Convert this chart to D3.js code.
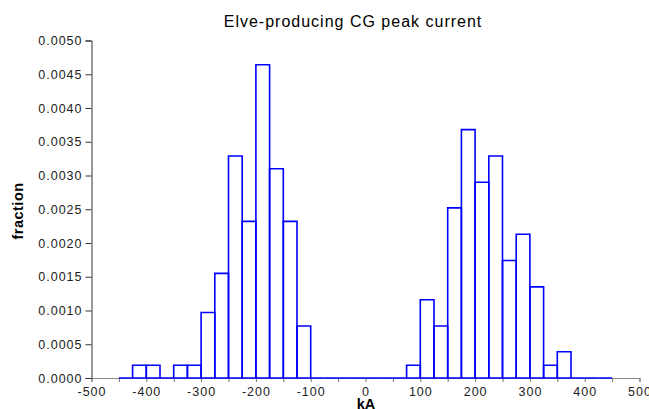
<!DOCTYPE html>
<html>
<head>
<meta charset="utf-8">
<script src="https://cdn.jsdelivr.net/npm/d3@7"></script>
<style>
  body { margin: 0; background: #fff; }
  svg { display: block; font-family: "Liberation Sans", Arial, sans-serif; }
</style>
</head>
<body>
<div id="chart"></div>
<script>
// Histogram bins (kA), 25 kA wide
const binStarts = [
  -450, -425, -400, -375, -350, -325, -300, -275, -250, -225, -200, -175, -150, -125,
  -100, -75, -50, -25, 0, 25, 50,
  75, 100, 125, 150, 175, 200, 225, 250, 275, 300, 325, 350, 375, 400, 425
];
const fractions = [
  0, 0.00019, 0.00019, 0, 0.00019, 0.00019, 0.00097, 0.00155, 0.00329, 0.00232, 0.00464, 0.00310, 0.00232, 0.00077,
  0, 0, 0, 0, 0, 0, 0,
  0.00019, 0.00116, 0.00077, 0.00252, 0.00368, 0.00290, 0.00329, 0.00174, 0.00213, 0.00135, 0.00019, 0.00039, 0, 0, 0
];
const binWidth = 25;
const xTicks = [-500, -400, -300, -200, -100, 0, 100, 200, 300, 400, 500];
const yTicks = [0, 0.0005, 0.001, 0.0015, 0.002, 0.0025, 0.003, 0.0035, 0.004, 0.0045, 0.005];

const width = 649, height = 409;
const margin = { top: 40.5, right: 10, bottom: 31, left: 91.5 };

const svg = d3.select('#chart').append('svg')
  .attr('width', width)
  .attr('height', height);

const x = d3.scaleLinear().domain([-500, 500]).range([margin.left, 639.5]);
const y = d3.scaleLinear().domain([0, 0.005]).range([height - margin.bottom, margin.top]);

// Axes
const xAxis = svg.append('g')
  .attr('transform', 'translate(0,' + y(0) + ')')
  .call(d3.axisBottom(x).tickValues(d3.range(-500, 501, 50)).tickSize(4)
    .tickFormat(d => xTicks.includes(d) ? d : ''));

const yAxis = svg.append('g')
  .attr('transform', 'translate(' + x(-500) + ',0)')
  .call(d3.axisLeft(y).tickValues(yTicks).tickSize(6).tickFormat(d3.format('.4f')));

[xAxis, yAxis].forEach(g => {
  g.select('.domain').attr('stroke', '#333').attr('stroke-width', 1);
  g.selectAll('.tick line').attr('stroke', '#333');
  g.selectAll('.tick text')
    .attr('fill', '#222')
    .style('font-size', '12.5px')
    .style('letter-spacing', '1px')
    .style('font-family', '"Liberation Sans", Arial, sans-serif');
});
xAxis.select('.domain').attr('stroke', '#888');
xAxis.selectAll('.tick line').attr('stroke', '#777');
xAxis.selectAll('.tick text').attr('dy', '0.85em');
yAxis.selectAll('.tick text').attr('x', -9);

// Bars, drawn as closed outlines so empty bins still show along the baseline
svg.append('g').selectAll('path')
  .data(binStarts.map((s, i) => ({ s: s, v: fractions[i] })))
  .enter()
  .append('path')
  .attr('d', d => {
    const x0 = x(d.s), x1 = x(d.s + binWidth), y0 = y(0), y1 = y(d.v);
    return 'M' + x0 + ',' + y0 + 'V' + y1 + 'H' + x1 + 'V' + y0 + 'Z';
  })
  .attr('fill', 'none')
  .attr('stroke', '#0000ff')
  .attr('stroke-width', 1.6);

// Titles
svg.append('text')
  .attr('x', 353)
  .attr('y', 27)
  .attr('text-anchor', 'middle')
  .style('font-size', '16px')
  .style('letter-spacing', '1px')
  .attr('fill', '#000')
  .text('Elve-producing CG peak current');

svg.append('text')
  .attr('transform', 'translate(23,211) rotate(-90)')
  .attr('text-anchor', 'middle')
  .style('font-size', '14.5px')
  .style('font-weight', 'bold')
  .style('letter-spacing', '0.5px')
  .text('fraction');

svg.append('text')
  .attr('x', 366)
  .attr('y', 409)
  .attr('text-anchor', 'middle')
  .style('font-size', '14.5px')
  .style('font-weight', 'bold')
  .text('kA');
</script>
</body>
</html>
